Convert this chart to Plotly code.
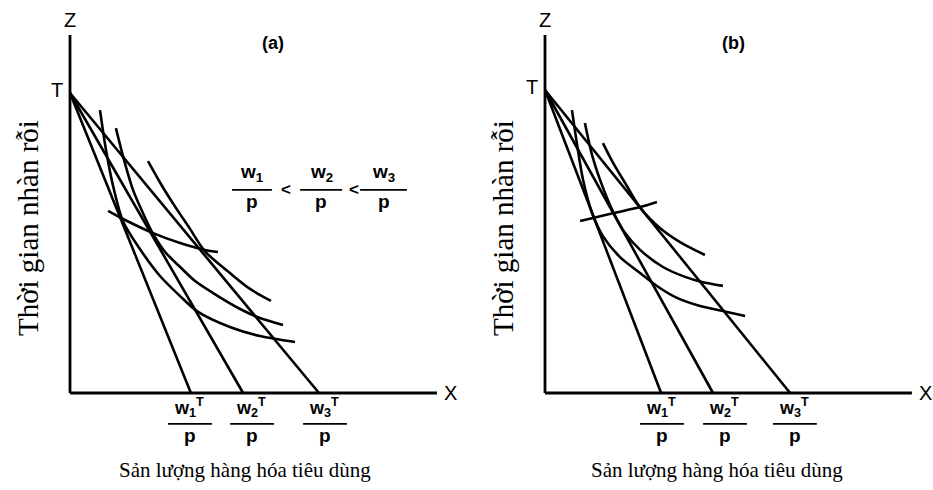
import plotly.graph_objects as go

# ---------------- data (units: 1 unit ~ same scale on both axes) ----------------
T_a = 10.0
budget_a = [4.03, 5.77, 8.3]          # w_i*T/p intercepts, panel (a)
u1a_x = [1.0, 1.2, 1.43, 1.77, 2.33, 3.0, 3.67, 4.23, 5.33, 6.33, 7.5]
u1a_y = [9.43, 8.1, 6.93, 5.72, 4.8, 3.9, 3.23, 2.73, 2.2, 1.9, 1.7]
u2a_x = [1.53, 1.8, 2.1, 2.43, 2.77, 3.17, 3.67, 4.17, 4.77, 5.67, 6.33, 7.1]
u2a_y = [8.83, 7.77, 6.77, 6.0, 5.3, 4.7, 4.2, 3.73, 3.33, 2.8, 2.5, 2.27]
u3a_x = [2.6, 3.07, 3.53, 4.0, 4.5, 5.33, 6.0, 6.7]
u3a_y = [7.73, 6.9, 6.17, 5.47, 4.72, 4.0, 3.47, 3.07]
pcca_x = [1.27, 1.77, 2.77, 3.67, 4.5, 4.93]
pcca_y = [6.07, 5.8, 5.33, 5.0, 4.77, 4.7]

T_b = 10.1
budget_b = [3.87, 5.6, 8.17]
u1b_x = [0.9, 1.07, 1.27, 1.57, 1.93, 2.5, 3.17, 3.83, 4.4, 5.17, 6.07, 6.67]
u1b_y = [9.43, 8.27, 7.1, 6.0, 5.23, 4.53, 4.0, 3.5, 3.17, 2.9, 2.7, 2.57]
u2b_x = [1.33, 1.57, 1.9, 2.3, 2.67, 3.17, 3.93, 4.67, 5.23, 5.93]
u2b_y = [9.0, 7.93, 6.93, 5.98, 5.33, 4.77, 4.2, 3.87, 3.7, 3.57]
u3b_x = [1.93, 2.27, 2.67, 3.17, 3.83, 4.5, 5.07, 5.33]
u3b_y = [8.33, 7.67, 7.0, 6.18, 5.5, 5.03, 4.73, 4.6]
pccb_x = [1.17, 1.6, 2.3, 3.17, 3.73]
pccb_y = [5.73, 5.83, 6.0, 6.2, 6.37]

subs = ["1", "2", "3"]
y_title = "Thời gian nhàn rỗi"
x_title = "Sản lượng hàng hóa tiêu dùng"

# ---------------- layout helpers ----------------
W, H = 933, 490
LW = 2.6
SANS = "Liberation Sans, Arial, sans-serif"
SERIF = "Liberation Serif, Times New Roman, serif"
axis_top = 11.93
axis_right = 12.23
label_x_a = [4.0, 6.07, 8.5]
label_x_b = [3.9, 6.0, 8.33]

fig = go.Figure()
shapes = []
annotations = []


def line_trace(x, y, xa, ya, spline=False):
    fig.add_trace(go.Scatter(
        x=x, y=y, mode="lines", xaxis=xa, yaxis=ya, showlegend=False,
        hoverinfo="skip",
        line=dict(color="black", width=LW, shape="spline" if spline else "linear",
                  smoothing=0.8),
    ))


def panel(xa, ya, T, budget, curves, pcc, label_x, tag):
    xr, yr = xa, ya
    # axes
    shapes.append(dict(type="line", xref=xr, yref=yr, x0=0, y0=0, x1=0, y1=axis_top,
                       line=dict(color="black", width=2.8)))
    shapes.append(dict(type="line", xref=xr, yref=yr, x0=0, y0=0, x1=axis_right, y1=0,
                       line=dict(color="black", width=2.8)))
    # budget lines
    for b in budget:
        line_trace([0, b], [T, 0], xa, ya)
    # indifference curves
    for cx, cy in curves:
        line_trace(cx, cy, xa, ya, spline=True)
    line_trace(pcc[0], pcc[1], xa, ya, spline=True)
    # text
    txt = lambda x, y, t, size=18, font=SANS, **kw: annotations.append(dict(
        x=x, y=y, xref=xr, yref=yr, text=t, showarrow=False,
        font=dict(family=font, size=size, color="black"), **kw))
    txt(0, 12.43, "Z", 20)
    txt(-0.42, T + 0.1, "T", 20)
    txt(12.67, 0, "X", 20)
    txt(6.77 if tag == "a" else 6.27, 11.67, "<b>(%s)</b>" % tag, 18)
    txt(-1.4, 5.5, y_title, 29, SERIF, textangle=-90)
    txt(5.83 if tag == "a" else 5.73, -2.57, x_title, 21, SERIF)
    for lx, s in zip(label_x, subs):
        txt(lx - 0.03, -0.47, "<b>w<sub>%s</sub><sup>T</sup></b>" % s, 18)
        txt(lx, -1.43, "<b>p</b>", 19)
        shapes.append(dict(type="line", xref=xr, yref=yr, x0=lx - 0.73, x1=lx + 0.73,
                           y0=-1.03, y1=-1.03, line=dict(color="black", width=1.6)))


panel("x", "y", T_a, budget_a,
      [(u1a_x, u1a_y), (u2a_x, u2a_y), (u3a_x, u3a_y)], (pcca_x, pcca_y), label_x_a, "a")
panel("x2", "y2", T_b, budget_b,
      [(u1b_x, u1b_y), (u2b_x, u2b_y), (u3b_x, u3b_y)], (pccb_x, pccb_y), label_x_b, "b")

# wage ratio inequality in panel (a)
frac_bars = [(5.4, 6.73), (7.67, 9.07), (9.67, 11.23)]
for (a0, a1), s in zip(frac_bars, subs):
    shapes.append(dict(type="line", xref="x", yref="y", x0=a0, x1=a1, y0=6.77, y1=6.77,
                       line=dict(color="black", width=1.6)))
    c = (a0 + a1) / 2
    annotations.append(dict(x=c, y=7.35, xref="x", yref="y", showarrow=False,
                            text="<b>w<sub>%s</sub></b>" % s,
                            font=dict(family=SANS, size=19, color="black")))
    annotations.append(dict(x=c, y=6.4, xref="x", yref="y", showarrow=False,
                            text="<b>p</b>", font=dict(family=SANS, size=19, color="black")))
for lx in [7.2, 9.47]:
    annotations.append(dict(x=lx, y=6.77, xref="x", yref="y", showarrow=False,
                            text="<b><</b>", font=dict(family=SANS, size=17, color="black")))

ax_common = dict(visible=False, showgrid=False, zeroline=False, fixedrange=True)
fig.update_layout(
    width=W, height=H, margin=dict(l=0, r=0, t=0, b=0),
    paper_bgcolor="white", plot_bgcolor="white", showlegend=False,
    xaxis=dict(domain=[0, 466 / W], range=[-70 / 30, 396 / 30], **ax_common),
    yaxis=dict(domain=[0, 1], range=[-97 / 30, 393 / 30], **ax_common),
    xaxis2=dict(domain=[466 / W, 1], range=[-79 / 30, 388 / 30], anchor="y2", **ax_common),
    yaxis2=dict(domain=[0, 1], range=[-97 / 30, 393 / 30], anchor="x2", **ax_common),
    shapes=shapes, annotations=annotations,
)
fig.write_html("out.html")
